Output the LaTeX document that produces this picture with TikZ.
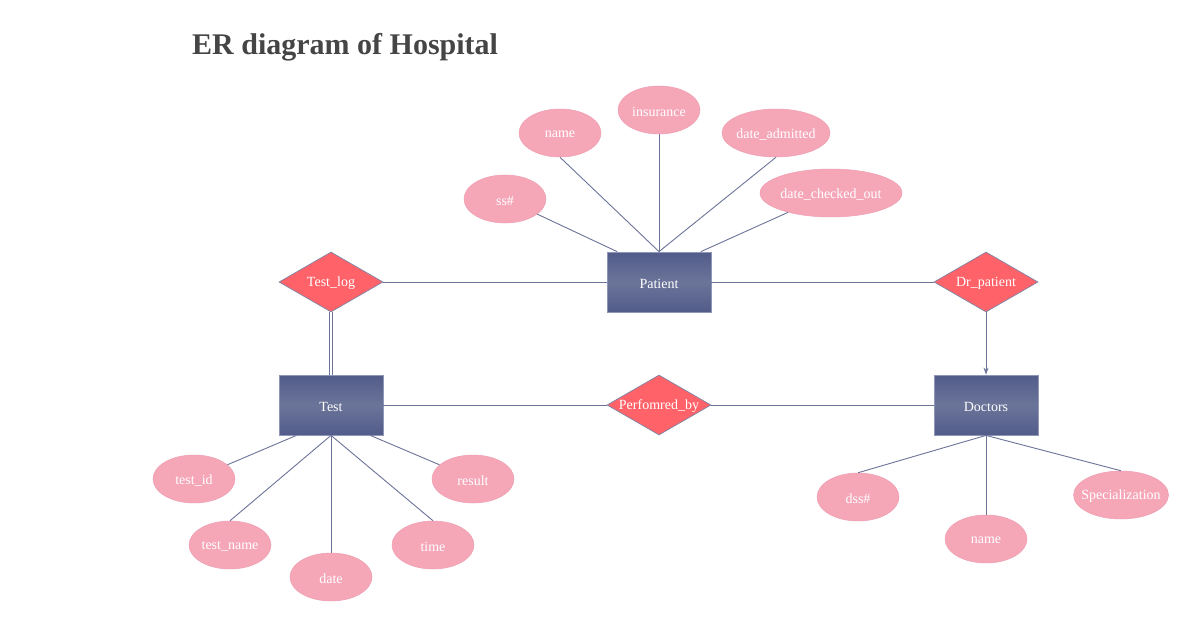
\documentclass[tikz,border=0pt]{standalone}
\usepackage{fontspec}
\setmainfont{Liberation Serif}
\usetikzlibrary{shapes.geometric,arrows.meta,calc}

\definecolor{entdark}{HTML}{525C8A}
\definecolor{entlight}{HTML}{6B7499}
\definecolor{entedge}{HTML}{8F96B8}
\definecolor{relred}{HTML}{FF6369}
\definecolor{reledge}{HTML}{7F84A6}
\definecolor{attrpink}{HTML}{F5A7B8}
\definecolor{attredge}{HTML}{EE9DB0}
\definecolor{linkcol}{HTML}{6C7398}
\definecolor{titlegray}{HTML}{454545}

\begin{document}
\begin{tikzpicture}[x=1pt,y=-1pt,
  lbl/.style={font=\fontsize{14}{16}\selectfont, text=white, inner sep=0pt},
  tag/.style={lbl, yshift=-1.5pt},
  entity/.style={rectangle, minimum width=104pt, minimum height=60pt, inner sep=0pt,
    draw=entedge, line width=0.8pt, top color=entdark, bottom color=entdark,
    middle color=entlight},
  relation/.style={diamond, minimum width=104pt, minimum height=60pt, inner sep=0pt,
    fill=relred, draw=reledge, line width=0.7pt},
  attr/.style={ellipse, minimum width=82pt, minimum height=48pt, inner sep=0pt,
    fill=attrpink, draw=attredge, line width=0.5pt},
  link/.style={draw=linkcol, line width=0.9pt}]

\useasboundingbox (0,0) rectangle (1204,631);
\fill[white] (0,0) rectangle (1204,631);

% title
\node[anchor=base west, inner sep=0pt, text=titlegray,
      font=\fontsize{30}{34}\selectfont\bfseries] (title) at (192,55) {ER diagram of Hospital};

% entities
\node[entity, label={[tag]center:Patient}] (patient) at (659,282) {};
\node[entity, label={[tag]center:Test}]    (test)    at (331,405) {};
\node[entity, label={[tag]center:Doctors}] (doctors) at (986,405) {};

% relationships
\node[relation, label={[tag]center:Test\_log}]     (testlog) at (331,282) {};
\node[relation, label={[tag]center:Dr\_patient}]   (drp)     at (986,282) {};
\node[relation, label={[tag]center:Perfomred\_by}] (pb)      at (659,405) {};

% patient attributes
\node[attr, label={[tag]center:ss\#}]                        (ss)     at (505,199) {};
\node[attr, label={[tag]center:name}]                        (pname)  at (560,133) {};
\node[attr, label={[tag]center:insurance}]                   (ins)    at (659,110) {};
\node[attr, minimum width=108pt, label={[tag]center:date\_admitted}]    (dadm) at (776,133) {};
\node[attr, minimum width=142pt, label={[tag]center:date\_checked\_out}] (dco)  at (831,193) {};

% test attributes
\node[attr, label={[tag]center:test\_id}]   (tid)    at (194,479) {};
\node[attr, label={[tag]center:test\_name}] (tname)  at (230,545) {};
\node[attr, label={[tag]center:date}]       (tdate)  at (331,577) {};
\node[attr, label={[tag]center:time}]       (ttime)  at (433,545) {};
\node[attr, label={[tag]center:result}]     (tres)   at (473,479) {};

% doctor attributes
\node[attr, label={[tag]center:dss\#}]  (dss)   at (858,497) {};
\node[attr, label={[tag]center:name}]   (dname) at (986,539) {};
\node[attr, minimum width=95pt, label={[tag]center:Specialization}] (spec) at (1121,495) {};

% attachment points on entity edges
\coordinate (p1) at ($(patient.north west)!0.1!(patient.north east)$);
\coordinate (p5) at ($(patient.north west)!0.9!(patient.north east)$);
\coordinate (t1) at ($(test.south west)!0.17!(test.south east)$);
\coordinate (t5) at ($(test.south west)!0.875!(test.south east)$);

% attribute links
\draw[link] (ss) -- (p1);
\draw[link] (pname.south) -- (patient.north);
\draw[link] (ins.south) -- (patient.north);
\draw[link] (dadm.south) -- (patient.north);
\draw[link] (dco) -- (p5);

\draw[link] (tid) -- (t1);
\draw[link] (tname.north) -- (test.south);
\draw[link] (tdate.north) -- (test.south);
\draw[link] (ttime.north) -- (test.south);
\draw[link] (tres) -- (t5);

\draw[link] (dss.north) -- (doctors.south);
\draw[link] (dname.north) -- (doctors.south);
\draw[link] (spec.north) -- (doctors.south);

% relationship links
\draw[link] (testlog) -- (patient);
\draw[link] (patient) -- (drp);
\draw[link, -{Stealth[length=7pt,width=5pt]}] (drp) -- (doctors);
\draw[draw=linkcol, line width=0.8pt, double=white, double distance=2.6pt] (testlog) -- (test);
\draw[link] (test) -- (pb);
\draw[link] (pb) -- (doctors);
\end{tikzpicture}
\end{document}
